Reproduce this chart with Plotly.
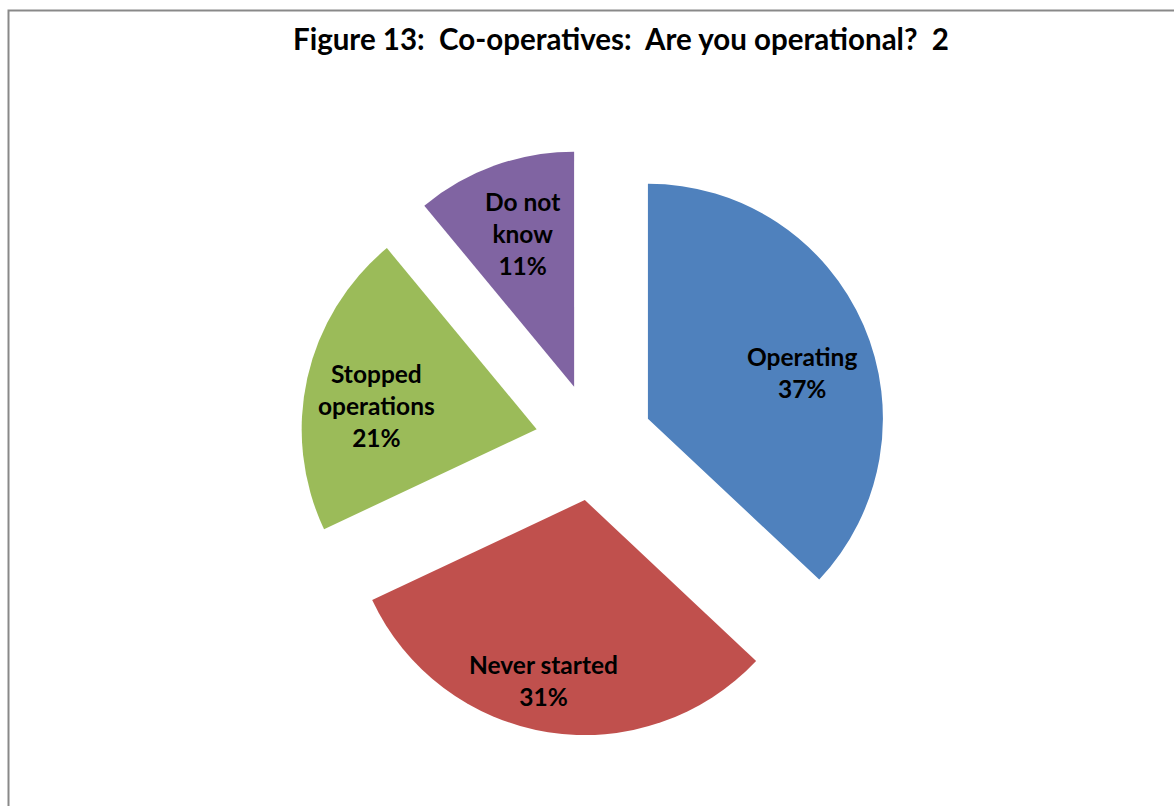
import math
import plotly.graph_objects as go

# Survey responses (share of co-operatives, %)
categories = ["Operating", "Never started", "Stopped operations", "Do not know"]
shares = [37, 31, 21, 11]
label_lines = ["Operating", "Never started", "Stopped<br>operations", "Do not<br>know"]

colors = ["#4F81BD", "#C0504D", "#9BBB59", "#8064A2"]

W, H = 1174, 806
CX, CY = 594, 442          # pie centre in pixels
R = 235                    # pie radius in pixels
PULL = 0.25                # explosion as a fraction of the radius
FONT = "Lato"

# label placement inside each slice: angle clockwise from 12 o'clock, radius fraction
label_angle = [73.4, 193.0, 278.5, 341.4]
label_radius = [0.684, 0.79, 0.69, 0.69]

half = R * (1 + PULL)
dom_x = [(CX - half) / W, (CX + half) / W]
dom_y = [1 - (CY + half) / H, 1 - (CY - half) / H]

fig = go.Figure(
    go.Pie(
        labels=categories,
        values=shares,
        sort=False,
        direction="clockwise",
        rotation=0,
        pull=[PULL] * len(shares),
        marker=dict(colors=colors, line=dict(width=0)),
        textinfo="none",
        hoverinfo="label+percent",
        showlegend=False,
        domain=dict(x=dom_x, y=dom_y),
    )
)

total = sum(shares)
annotations = []
start = 0.0
for i, v in enumerate(shares):
    frac = v / total
    mid = (start + frac / 2) * 2 * math.pi
    # tip of the exploded slice
    tx = CX + PULL * R * math.sin(mid)
    ty = CY - PULL * R * math.cos(mid)
    a = math.radians(label_angle[i])
    lx = tx + label_radius[i] * R * math.sin(a)
    ly = ty - label_radius[i] * R * math.cos(a)
    annotations.append(
        dict(
            x=lx / W, y=1 - ly / H, xref="paper", yref="paper",
            text=f"<b>{label_lines[i]}<br>{round(frac * 100)}%</b>",
            showarrow=False, xanchor="center", yanchor="middle",
            font=dict(family=FONT, size=24.5, color="#000000"),
        )
    )
    start += frac

annotations.append(
    dict(
        x=621 / W, y=1 - 39 / H, xref="paper", yref="paper",
        text="<b>Figure 13:  Co-operatives:  Are you operational?  2</b>",
        showarrow=False, xanchor="center", yanchor="middle",
        font=dict(family=FONT, size=29.5, color="#000000"),
    )
)

fig.update_layout(
    width=W, height=H,
    margin=dict(l=0, r=0, t=0, b=0),
    paper_bgcolor="white", plot_bgcolor="white",
    annotations=annotations,
    shapes=[
        dict(type="rect", xref="paper", yref="paper",
             x0=8.5 / W, x1=1.02, y0=-0.02, y1=1 - 10.5 / H,
             line=dict(color="#898989", width=2), fillcolor="rgba(0,0,0,0)"),
    ],
)

fig.write_html("out.html")
